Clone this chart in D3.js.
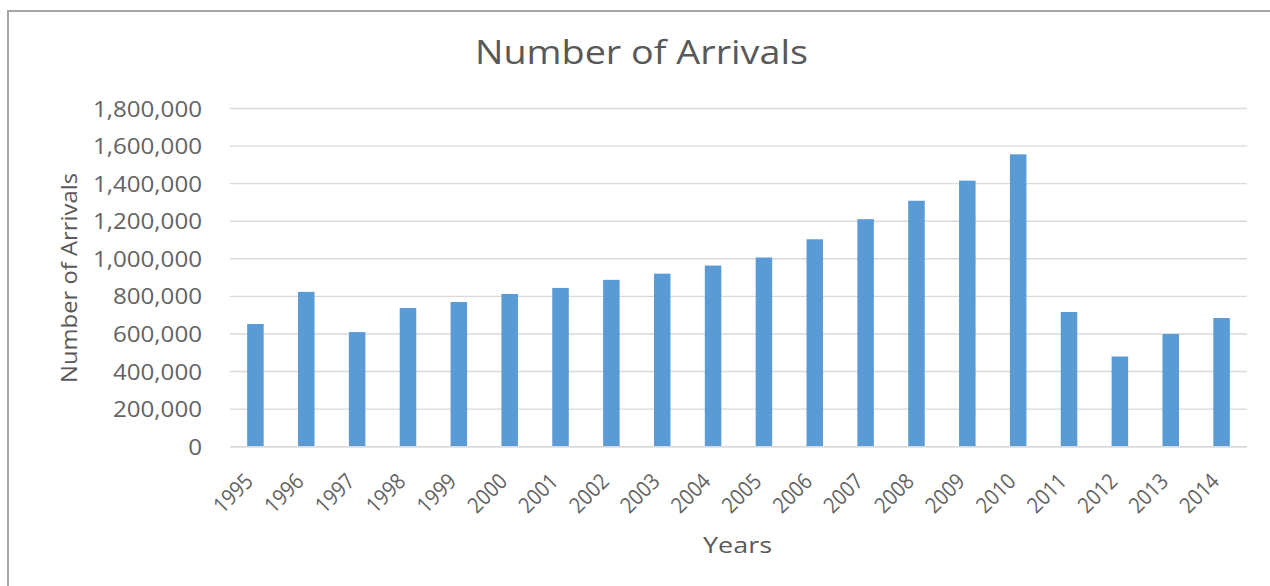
<!DOCTYPE html>
<html>
<head>
<meta charset="utf-8">
<script src="https://cdn.jsdelivr.net/npm/d3@7"></script>
<style>
  html, body { margin: 0; padding: 0; background: #fff; overflow: hidden; }
  svg { display: block; }
  text { font-family: "Open Sans", "Liberation Sans", sans-serif; fill: #595959; }
</style>
</head>
<body>
<svg id="chart" width="1270" height="586"></svg>
<script>
// Annual arrivals, 1995–2014
const years = ["1995","1996","1997","1998","1999","2000","2001","2002","2003","2004",
               "2005","2006","2007","2008","2009","2010","2011","2012","2013","2014"];
const arrivals = [653000, 824000, 610000, 738000, 770000, 813000, 845000, 888000, 921000, 964000,
                  1007000, 1104000, 1211000, 1309000, 1416000, 1556000, 717000, 480000, 600000, 685000];
const yTicks = [0, 200000, 400000, 600000, 800000, 1000000, 1200000, 1400000, 1600000, 1800000];

const chartTitle = "Number of Arrivals";
const xTitle = "Years";
const yTitle = "Number of Arrivals";

const svg = d3.select("#chart");

// chart frame
svg.append("rect")
  .attr("x", 8).attr("y", 11)
  .attr("width", 1300).attr("height", 620)
  .attr("fill", "#fff")
  .attr("stroke", "#a6a6a6")
  .attr("stroke-width", 2);

const plot = { left: 230, right: 1247, top: 108.5, bottom: 446.7 };

const x = d3.scaleBand()
  .domain(years)
  .range([plot.left, plot.right])
  .paddingInner(0.675)
  .paddingOuter(0.3375);

const y = d3.scaleLinear()
  .domain([0, 1800000])
  .range([plot.bottom, plot.top]);

// horizontal gridlines
svg.append("g")
  .selectAll("line")
  .data(yTicks)
  .join("line")
  .attr("x1", plot.left).attr("x2", plot.right)
  .attr("y1", d => y(d)).attr("y2", d => y(d))
  .attr("stroke", "#d9d9d9")
  .attr("stroke-width", 1.4);

// y axis labels
const yAxis = svg.append("g")
  .attr("transform", `translate(${plot.left},0)`)
  .call(d3.axisLeft(y).tickValues(yTicks).tickFormat(d3.format(",")).tickSize(0).tickPadding(0));
yAxis.select(".domain").remove();
yAxis.selectAll("text")
  .attr("x", 0)
  .attr("dy", "0.36em")
  .attr("transform", "translate(-28,0) scale(1.15,1)")
  .style("font-size", "21px")
  .style("fill", "#636363");

// bars
svg.append("g")
  .selectAll("rect")
  .data(years.map((yr, i) => ({ yr, v: arrivals[i] })))
  .join("rect")
  .attr("x", d => x(d.yr))
  .attr("width", x.bandwidth())
  .attr("y", d => y(d.v))
  .attr("height", d => y(0) - y(d.v))
  .attr("fill", "#5b9bd5");

// x axis labels, rotated
const xAxis = svg.append("g")
  .attr("transform", `translate(0,${plot.bottom})`)
  .call(d3.axisBottom(x).tickSize(0).tickPadding(0));
xAxis.select(".domain").remove();
xAxis.selectAll(".tick text")
  .attr("x", 0).attr("y", 0).attr("dy", 0)
  .attr("text-anchor", "end")
  .attr("transform", "translate(-1,36) rotate(-45)")
  .attr("textLength", 45)
  .attr("lengthAdjust", "spacingAndGlyphs")
  .style("font-size", "22px")
  .style("fill", "#636363");

// category axis line
svg.append("line")
  .attr("x1", plot.left).attr("x2", plot.right)
  .attr("y1", y(0)).attr("y2", y(0))
  .attr("stroke", "#d9d9d9")
  .attr("stroke-width", 1.4);

// chart title
svg.append("text")
  .attr("x", 641.5).attr("y", 64)
  .attr("text-anchor", "middle")
  .attr("textLength", 333)
  .attr("lengthAdjust", "spacingAndGlyphs")
  .style("font-size", "33px")
  .text(chartTitle);

// axis titles
svg.append("text")
  .attr("x", 737.5).attr("y", 553)
  .attr("text-anchor", "middle")
  .attr("textLength", 69)
  .attr("lengthAdjust", "spacingAndGlyphs")
  .style("font-size", "21px")
  .text(xTitle);

svg.append("text")
  .attr("transform", "translate(77,278) rotate(-90)")
  .attr("text-anchor", "middle")
  .attr("textLength", 210)
  .attr("lengthAdjust", "spacingAndGlyphs")
  .style("font-size", "21px")
  .text(yTitle);
</script>
</body>
</html>
